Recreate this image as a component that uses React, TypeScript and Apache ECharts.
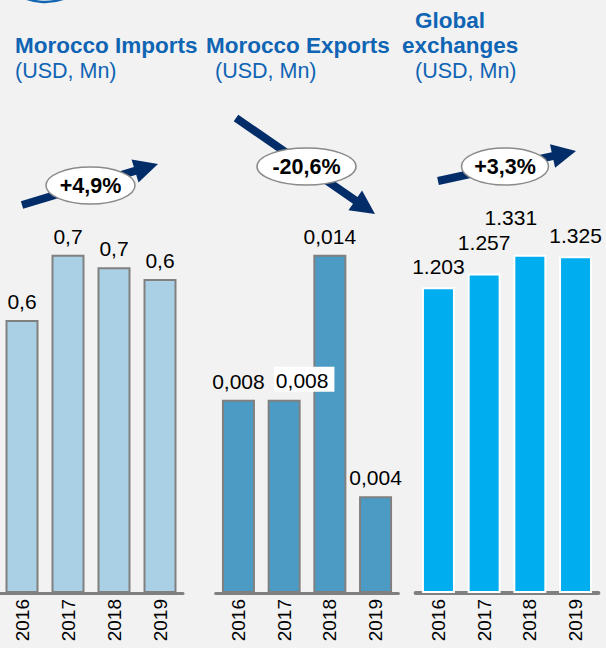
import React, { useEffect, useRef } from "react";
import * as echarts from "echarts";

const years = ["2016", "2017", "2018", "2019"];
const importsValues = [0.554, 0.686, 0.661, 0.637];
const exportsValues = [0.008, 0.008, 0.014, 0.004];
const exchangesValues = [1.203, 1.257, 1.331, 1.325];
const panelTitles = ["Morocco Imports", "Morocco Exports", "exchanges"];
const panelTitleTop = "Global";
const unitLabel = "(USD, Mn)";
const growthLabels = ["+4,9%", "-20,6%", "+3,3%"];

const FONT = "'Liberation Sans', Arial, Helvetica, sans-serif";
const BLUE_TEXT = "#0f64b4";
const NAVY = "#032d69";

function arrowPoints(
  tail: [number, number],
  tip: [number, number],
  shaft: number,
  headLen: number,
  headHalf: number
): number[][] {
  const dx = tip[0] - tail[0];
  const dy = tip[1] - tail[1];
  const len = Math.sqrt(dx * dx + dy * dy);
  const ux = dx / len;
  const uy = dy / len;
  const px = -uy;
  const py = ux;
  const bx = tip[0] - ux * headLen;
  const by = tip[1] - uy * headLen;
  const s = shaft / 2;
  return [
    [tail[0] + px * s, tail[1] + py * s],
    [bx + px * s, by + py * s],
    [bx + px * headHalf, by + py * headHalf],
    [tip[0], tip[1]],
    [bx - px * headHalf, by - py * headHalf],
    [bx - px * s, by - py * s],
    [tail[0] - px * s, tail[1] - py * s],
  ];
}

export default function App() {
  const ref = useRef<HTMLDivElement>(null);

  useEffect(() => {
    if (!ref.current) return;
    const chart = echarts.init(ref.current, null, { renderer: "svg" });

    const gridTop = 100;
    const gridHeight = 493;
    const grids = [
      { left: -1, top: gridTop, width: 184, height: gridHeight },
      { left: 215.6, top: gridTop, width: 182.8, height: gridHeight },
      { left: 415.6, top: gridTop, width: 182.8, height: gridHeight },
    ];
    const yMax = [1.0, 0.0204, 1.94];
    const axisWidths = [3, 3, 4];

    const baseLabel = {
      show: true,
      position: "top",
      distance: 8,
      fontSize: 21,
      color: "#000",
      fontFamily: FONT,
    };

    const exchangeNudges = [
      [0, -2.5],
      [0, -13],
      [-19, -19],
      [0, -2],
    ];

    const importsData = importsValues.map((v) => ({ value: v }));
    const exportsData = exportsValues.map((v, i) =>
      i === 1
        ? {
            value: v,
            label: {
              offset: [20, 0],
              backgroundColor: "#ffffff",
              padding: [3, 6, 1, 2],
            },
          }
        : { value: v }
    );
    const exchangesData = exchangesValues.map((v, i) => ({
      value: v,
      label: { offset: exchangeNudges[i] },
    }));

    const fmtComma = (d: number) => (n: any) =>
      Number(n.value).toFixed(d).replace(".", ",");

    const arrows = [
      { tail: [22, 205] as [number, number], tip: [158, 164] as [number, number] },
      { tail: [236, 118] as [number, number], tip: [375, 214] as [number, number] },
      { tail: [438, 181] as [number, number], tip: [576, 151] as [number, number] },
    ];
    const ellipses = [
      { cx: 90.5, cy: 185.5, rx: 44.5, ry: 18.5 },
      { cx: 306.5, cy: 166.5, rx: 49.5, ry: 18.5 },
      { cx: 505, cy: 166.5, rx: 43.5, ry: 18.5 },
    ];

    const titleStyle = {
      fontSize: 22.5,
      fontWeight: "bold",
      fontFamily: FONT,
      fill: BLUE_TEXT,
      textAlign: "left",
      textVerticalAlign: "middle",
    };

    const graphics: any[] = [
      {
        type: "circle",
        shape: { cx: 45, cy: -52, r: 54 },
        style: { fill: "none", stroke: "#1464b4", lineWidth: 2.5 },
      },
      { type: "text", style: { ...titleStyle, text: panelTitles[0], x: 15, y: 45 } },
      { type: "text", style: { ...titleStyle, text: panelTitles[1], x: 206, y: 45 } },
      { type: "text", style: { ...titleStyle, text: panelTitleTop, x: 415, y: 20 } },
      { type: "text", style: { ...titleStyle, text: panelTitles[2], x: 402, y: 45 } },
      ...[15, 215, 415].map((x) => ({
        type: "text",
        style: {
          text: unitLabel,
          x,
          y: 71,
          fontSize: 21.5,
          fontFamily: FONT,
          fill: BLUE_TEXT,
          textAlign: "left",
          textVerticalAlign: "middle",
        },
      })),
    ];

    arrows.forEach((a, i) => {
      graphics.push({
        type: "polygon",
        shape: { points: arrowPoints(a.tail, a.tip, 8, 24, 12) },
        style: { fill: NAVY },
      });
      const e = ellipses[i];
      graphics.push({
        type: "ellipse",
        shape: { cx: e.cx, cy: e.cy, rx: e.rx, ry: e.ry },
        style: { fill: "#ffffff", stroke: "#8a8a8a", lineWidth: 1.5 },
      });
      graphics.push({
        type: "text",
        style: {
          text: growthLabels[i],
          x: e.cx,
          y: e.cy,
          fontSize: 21.5,
          fontWeight: "bold",
          fontFamily: FONT,
          fill: "#000",
          textAlign: "center",
          textVerticalAlign: "middle",
        },
      });
    });

    const option: any = {
      animation: false,
      backgroundColor: "#f2f2f2",
      grid: grids.map((g) => ({ ...g, outerBoundsMode: "none", containLabel: false })),
      xAxis: grids.map((_, i) => ({
        type: "category",
        gridIndex: i,
        data: years,
        axisLine: { show: true, lineStyle: { color: "#808080", width: axisWidths[i] } },
        axisTick: { show: false },
        splitLine: { show: false },
        axisLabel: {
          rotate: 90,
          fontSize: 19,
          color: "#000",
          margin: 6,
          fontFamily: FONT,
          interval: 0,
        },
      })),
      yAxis: grids.map((_, i) => ({
        type: "value",
        gridIndex: i,
        min: 0,
        max: yMax[i],
        show: false,
        splitLine: { show: false },
      })),
      series: [
        {
          type: "bar",
          xAxisIndex: 0,
          yAxisIndex: 0,
          barWidth: 33,
          data: importsData,
          itemStyle: { color: "#a9d0e4", borderColor: "#808080", borderWidth: 2 },
          label: { ...baseLabel, formatter: fmtComma(1) },
        },
        {
          type: "bar",
          xAxisIndex: 1,
          yAxisIndex: 1,
          barWidth: 33,
          data: exportsData,
          itemStyle: { color: "#4b9bc5", borderColor: "#808080", borderWidth: 2 },
          label: { ...baseLabel, formatter: fmtComma(3) },
        },
        {
          type: "bar",
          xAxisIndex: 2,
          yAxisIndex: 2,
          barWidth: 33,
          data: exchangesData,
          itemStyle: { color: "#00adef", borderColor: "#ffffff", borderWidth: 2 },
          label: {
            ...baseLabel,
            formatter: (p: any) => Number(p.value).toFixed(3),
          },
        },
      ],
      graphic: { elements: graphics },
    };

    chart.setOption(option);
    return () => chart.dispose();
  }, []);

  return (
    <div
      ref={ref}
      style={{ position: "fixed", left: 0, top: 0, width: 606, height: 648 }}
    />
  );
}
